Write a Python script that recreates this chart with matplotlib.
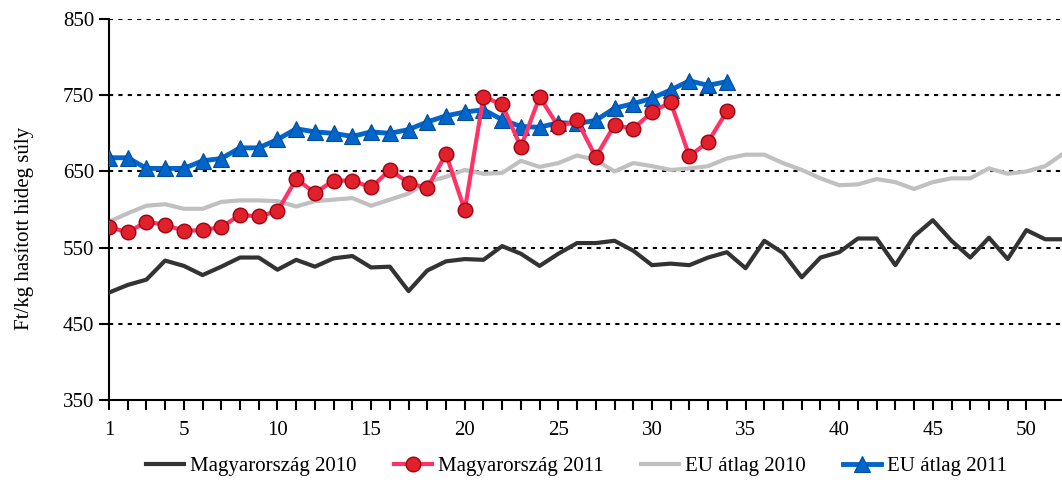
import numpy as np
import matplotlib
matplotlib.use("Agg")
from matplotlib import pyplot as plt

# weekly pig prices, Ft/kg (cold carcass weight)
weeks_2010 = np.arange(1, 53)
weeks_2011 = np.arange(1, 35)

hu_2010 = [491, 501, 508, 533, 526, 514, 525, 537, 537, 521,
           534, 525, 536, 539, 524, 525, 493, 520, 532, 535,
           534, 552, 542, 526, 542, 556, 556, 559, 546, 527,
           529, 527, 537, 544, 523, 559, 543, 511, 537, 544,
           562, 562, 527, 565, 586, 559, 537, 563, 535, 573,
           561, 561]

hu_2011 = [577, 570, 584, 580, 572, 573, 577, 593, 591, 598,
           640, 622, 638, 638, 629, 652, 635, 628, 673, 599,
           748, 738, 682, 748, 709, 717, 669, 711, 706, 728,
           741, 670, 689, 729]

eu_2010 = [584, 595, 605, 607, 601, 601, 610, 612, 612, 611,
           604, 611, 613, 615, 605, 613, 621, 636, 643, 652,
           647, 648, 664, 656, 661, 671, 665, 650, 661, 657,
           652, 654, 657, 667, 672, 672, 661, 652, 641, 632,
           633, 640, 636, 627, 636, 641, 641, 654, 647, 650,
           657, 674]

eu_2011 = [668, 668, 654, 654, 654, 664, 667, 681, 681, 692,
           706, 702, 700, 696, 702, 700, 705, 715, 723, 728,
           731, 718, 709, 708, 714, 713, 717, 733, 739, 746,
           757, 769, 763, 768]

y_ticks = [350, 450, 550, 650, 750, 850]
x_ticks = [1, 5, 10, 15, 20, 25, 30, 35, 40, 45, 50]

plt.rcParams['font.family'] = ['Liberation Serif', 'DejaVu Serif']

fig = plt.figure(figsize=(10.62, 4.9), dpi=100)
ax = fig.add_axes([0.1026, 0.1837, 0.8974, 0.7773])

ax.plot(weeks_2010, hu_2010, color='#333333', lw=3, label='Magyarország 2010', zorder=3)
ax.plot(weeks_2011, hu_2011, color='#ff3366', lw=3, marker='o', ms=10.5,
        mfc='#e0202a', mec='#a00010', mew=1, label='Magyarország 2011', zorder=5)
ax.plot(weeks_2010, eu_2010, color='#c0c0c0', lw=3, label='EU átlag 2010', zorder=2)
ax.plot(weeks_2011, eu_2011, color='#0066cc', lw=3.5, marker='^', ms=11,
        mfc='#0066cc', mec='#004c99', mew=0.8, label='EU átlag 2011', zorder=4)

for v in y_ticks[1:]:
    ax.axhline(v, color='black', lw=1.5, ls=(0, (2, 2.5)), zorder=1)

ax.set_xlim(1, 51.9)
ax.set_ylim(350, 850)
ax.set_yticks(y_ticks)
ax.set_xticks(np.arange(1, 52))
ax.set_xticklabels([str(w) if w in x_ticks else '' for w in np.arange(1, 52)])
ax.tick_params(axis='x', length=7, width=1.5, labelsize=15, pad=8)
ax.tick_params(axis='y', length=7, width=1.5, labelsize=15)

for s in ['top', 'right']:
    ax.spines[s].set_visible(False)
for s in ['left', 'bottom']:
    ax.spines[s].set_linewidth(1.5)

ax.set_ylabel('Ft/kg hasított hideg súly', fontsize=15)
ax.yaxis.set_label_coords(-0.079, 0.45)

fig.legend(loc='lower center', ncol=4, frameon=False, fontsize=15,
           bbox_to_anchor=(0.543, -0.01), handlelength=1.8, handletextpad=0.3,
           columnspacing=1.8)

fig.savefig('out.png', dpi=100)
